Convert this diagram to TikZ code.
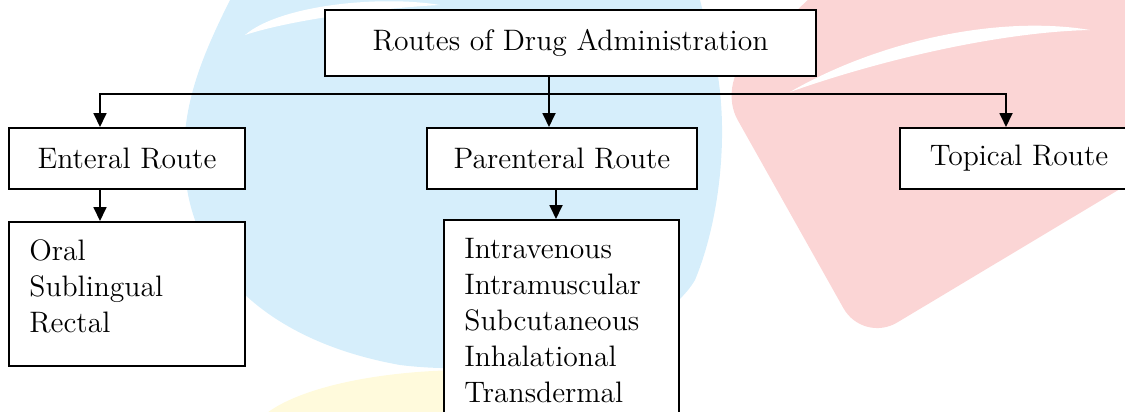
\documentclass[tikz,border=0pt]{standalone}
\usetikzlibrary{arrows.meta}

\definecolor{wmblue}{HTML}{D6EEFB}
\definecolor{wmpink}{HTML}{FBD5D5}
\definecolor{wmyellow}{HTML}{FFFADC}

\tikzset{
  routebox/.style={rectangle, draw, line width=1pt, fill=white, inner sep=0pt,
    font=\fontsize{14.8pt}{18pt}\selectfont},
  listtext/.style={align=left, inner sep=0pt, anchor=north west,
    font=\fontsize{14.8pt}{18pt}\selectfont},
  arr/.style={line width=0.9pt, -{Triangle[length=7pt,width=6.5pt]}}
}

\begin{document}
\begin{tikzpicture}[x=0.5pt, y=-0.5pt]
        \useasboundingbox (0,0) rectangle (1125,412);

        % watermark in the back
        \fill[wmblue] (230,0) .. controls (200,60) and (180,110) .. (185,170)
            .. controls (190,260) and (260,340) .. (400,365)
            .. controls (520,380) and (660,340) .. (695,280)
            .. controls (720,220) and (730,130) .. (715,60) -- (700,0) -- cycle;
        \fill[white] (245,35) .. controls (280,5) and (380,-5) .. (440,5)
            .. controls (380,8) and (290,20) .. (245,35);
        \fill[wmpink, rounded corners=20pt] (718,85) -- (850,-40) -- (1160,-40)
            -- (1160,165) -- (863,343) -- cycle;
        \fill[white] (790,92) .. controls (880,40) and (1000,15) .. (1090,30)
            .. controls (1000,32) and (880,60) .. (790,92);
        \fill[wmyellow] (470,440) ellipse [x radius=220, y radius=70];

        % the route boxes
        \node[routebox, minimum width=245.5pt, minimum height=33pt] (routes)
            at (570.5,43) {Routes of Drug Administration};
        \node[routebox, minimum width=118pt, minimum height=30.5pt] (enteral)
            at (127,158.5) {Enteral Route};
        \node[routebox, minimum width=134.75pt, minimum height=30.5pt] (parenteral)
            at (562,158.5) {Parenteral Route};
        \node[routebox, minimum width=119pt, minimum height=30.5pt] (topical)
            at (1019,158.5) {Topical Route};

        % lists under the routes
        \node[routebox, minimum width=118pt, minimum height=72pt] (entlist)
            at (127,294) {};
        \node[listtext] (entitems) at ([xshift=10.5pt,yshift=-9pt]entlist.north west)
            {Oral\\Sublingual\\Rectal};
        \node[routebox, minimum width=117.5pt, minimum height=105pt] (parlist)
            at (561.5,325) {};
        \node[listtext] (paritems) at ([xshift=10.5pt,yshift=-9.5pt]parlist.north west)
            {Intravenous\\Intramuscular\\Subcutaneous\\Inhalational\\Transdermal};

        % connectors
        \coordinate (busL) at (100,94);
        \coordinate (busM) at (549,94);
        \coordinate (busR) at (1006,94);
        \draw[arr] (busM) -- (busL) -- (busL |- enteral.north);
        \draw[arr] (busM) -- (busR) -- (busR |- topical.north);
        \draw[arr] (busM |- routes.south) -- (busM |- parenteral.north);
        \draw[arr] (busL |- enteral.south) -- (busL |- entlist.north);
        \coordinate (pdrop) at ([xshift=-3pt]parenteral.south);
        \draw[arr] (pdrop) -- (pdrop |- parlist.north);

    \end{tikzpicture}
\end{document}
